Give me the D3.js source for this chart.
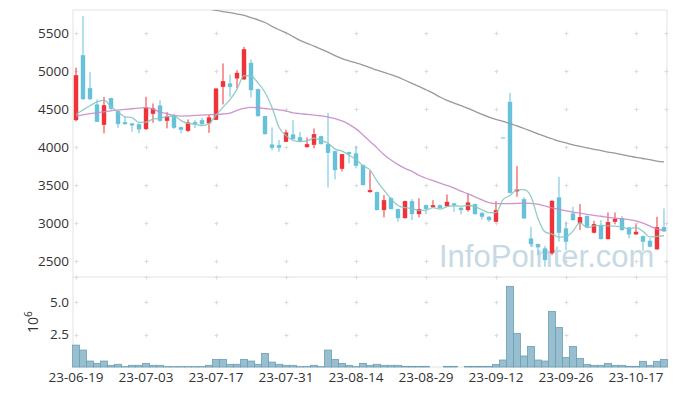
<!DOCTYPE html>
<html>
<head>
<meta charset="utf-8">
<script src="https://cdn.jsdelivr.net/npm/d3@7"></script>
<style>
  body { margin: 0; background: #fff; }
  svg { display: block; font-family: "Open Sans", sans-serif; }
</style>
</head>
<body>
<svg id="chart" width="677" height="396"></svg>
<script>
// trading days shown on the chart
const dates = [
  '23-06-19','23-06-20','23-06-21','23-06-22','23-06-23','23-06-26','23-06-27','23-06-28','23-06-29','23-06-30',
  '23-07-03','23-07-04','23-07-05','23-07-06','23-07-07','23-07-10','23-07-11','23-07-12','23-07-13','23-07-14',
  '23-07-17','23-07-18','23-07-19','23-07-20','23-07-21','23-07-24','23-07-25','23-07-26','23-07-27','23-07-28',
  '23-07-31','23-08-01','23-08-02','23-08-03','23-08-04','23-08-07','23-08-08','23-08-09','23-08-10','23-08-11',
  '23-08-14','23-08-16','23-08-17','23-08-18','23-08-21','23-08-22','23-08-23','23-08-24','23-08-25','23-08-28',
  '23-08-29','23-08-30','23-08-31','23-09-01','23-09-04','23-09-05','23-09-06','23-09-07','23-09-08','23-09-11',
  '23-09-12','23-09-13','23-09-14','23-09-15','23-09-18','23-09-19','23-09-20','23-09-21','23-09-22','23-09-25',
  '23-09-26','23-09-27','23-10-04','23-10-05','23-10-06','23-10-10','23-10-11','23-10-12','23-10-13','23-10-16',
  '23-10-17','23-10-18','23-10-19','23-10-20','23-10-23'
];

const open = [
  4355,5210,4776,4562,4293,4645,4474,4329,4312,4302, 4237,4438,4548,4346,4421,4263,4214,4329,4355,4312,
  4359,4793,4838,4904,4891,5109,4763,4408,4035,4026, 4070,4167,4131,3999,4030,4144,4039,3947,3714,3934,
  3917,3763,3408,3408,3171,3329,3184,3065,3289,3118, 3236,3210,3236,3219,3259,3201,3171,3250,3135,3083,
  3017,4127,4596,3417,3315,2798,2723,2667,2601,3338, 2930,3127,2996,3092,2872,2973,2789,3017,3065,2943,
  2851,2828,2767,2654,2947
];
const high = [
  5046,5724,4987,4627,4662,4650,4480,4398,4320,4320, 4662,4575,4618,4460,4440,4270,4364,4355,4385,4430,
  4775,5101,4956,5013,5320,5154,4770,4410,4259,4092, 4230,4355,4201,4127,4246,4150,4451,3950,3910,3940,
  4013,3770,3688,3415,3368,3340,3190,3295,3315,3325, 3245,3302,3245,3377,3265,3210,3390,3255,3140,3090,
  3289,4127,4714,3750,3340,2951,2730,2700,3300,3609, 3017,3215,3250,3100,3030,3039,3140,3140,3092,2950,
  2983,2835,2800,3083,3193
];
const low = [
  4340,4620,4620,4330,4180,4490,4254,4295,4201,4180, 4225,4320,4333,4246,4240,4180,4200,4250,4290,4188,
  4355,4562,4662,4772,4885,4654,4400,4165,3960,3938, 4065,4100,4075,3995,3983,4035,3470,3575,3680,3785,
  3720,3495,3400,3165,3075,3180,3017,3060,3039,3075, 3118,3200,3190,3215,3148,3114,3150,3110,3048,3017,
  3010,4127,3390,3346,3055,2688,2578,2425,2578,2754, 2645,3030,2907,2945,2865,2785,2785,2983,2900,2798,
  2845,2631,2680,2650,2885
];
const close = [
  4947,4631,4631,4333,4552,4504,4302,4302,4285,4233, 4517,4509,4346,4408,4254,4228,4325,4302,4302,4391,
  4772,4868,4793,4978,5289,4750,4408,4171,3991,3991, 4193,4105,4079,4039,4171,4039,3925,3697,3908,3908,
  3754,3500,3434,3171,3302,3184,3065,3289,3118,3184, 3184,3236,3197,3280,3233,3171,3272,3118,3083,3039,
  3171,4127,3398,3443,3061,2723,2680,2513,3293,2872, 2754,3039,3079,2951,2986,2789,3013,3056,2907,2851,
  2885,2754,2688,2947,2890
];
const volume = [
  1690000,1310000,460000,280000,460000,130000,210000,30000,130000,130000,
  280000,130000,130000,30000,30000,30000,30000,30000,30000,130000,
  590000,590000,210000,210000,590000,460000,210000,1050000,380000,210000,
  130000,130000,30000,30000,130000,30000,1310000,590000,280000,130000,
  30000,280000,130000,210000,130000,130000,130000,50000,50000,50000,
  50000,0,0,50000,50000,0,50000,50000,50000,50000,
  200000,540000,6230000,2590000,850000,1590000,540000,460000,4280000,3050000,
  740000,1590000,670000,200000,130000,130000,280000,130000,130000,50000,
  50000,440000,130000,440000,590000
];

// moving averages
const ma5 = [
  4430,4490,4545,4595,4619,4530,4464,4399,4389,4325, 4328,4369,4378,4403,4407,4349,4312,4303,4282,4310,
  4418,4527,4625,4760,4940,4936,4844,4719,4522,4262, 4151,4090,4072,4081,4117,4087,4051,3974,3948,3895,
  3838,3753,3701,3553,3432,3318,3231,3202,3192,3168, 3168,3202,3184,3216,3226,3223,3231,3215,3175,3137,
  3137,3308,3364,3436,3440,3350,3061,2884,2854,2816, 2822,2894,3007,2939,2962,2969,2964,2959,2950,2923,
  2942,2891,2817,2825,2833
];
const ma20 = [
  4412,4425,4440,4452,4465,4478,4488,4497,4505,4512, 4520,4500,4462,4440,4418,4408,4410,4418,4422,4425,
  4430,4436,4448,4485,4510,4522,4518,4508,4500,4490, 4475,4450,4440,4432,4422,4410,4395,4375,4345,4300,
  4240,4160,4075,3990,3900,3830,3770,3720,3680,3630, 3590,3560,3525,3495,3460,3420,3385,3345,3305,3270,
  3255,3255,3255,3260,3262,3258,3250,3225,3200,3180, 3160,3145,3130,3115,3100,3090,3075,3065,3055,3045,
  3030,3000,2960,2920,2905
];
const ma60 = [
  null,null,null,null,null,null,null,null,null,null, null,null,null,null,null,null,5880,5860,5840,5818,
  5800,5785,5770,5752,5735,5705,5675,5640,5590,5545, 5505,5455,5405,5365,5330,5290,5250,5205,5165,5135,
  5110,5080,5045,5015,4985,4955,4920,4880,4840,4800, 4755,4710,4660,4615,4580,4545,4510,4470,4430,4395,
  4365,4340,4310,4280,4245,4210,4175,4140,4110,4080, 4055,4030,4010,3990,3970,3955,3935,3920,3900,3880,
  3865,3850,3835,3815,3805
];

const xTickIdx = [0, 10, 20, 30, 40, 50, 60, 70, 80];
const priceTicks = [2500, 3000, 3500, 4000, 4500, 5000, 5500];
const volTicks = [2500000, 5000000];

const left = 73, right = 667;
const priceTop = 10, priceBottom = 277, volBottom = 367;
const upColor = '#ef3339', downColor = '#66c1d9';

const svg = d3.select('#chart');

const x = d3.scaleLinear()
  .domain([-0.43, dates.length - 1 + 0.43])
  .range([left, right]);
const yPrice = d3.scaleLinear().domain([2290, 5805]).range([priceBottom, priceTop]);
const yVol = d3.scaleLinear().domain([0, 6950000]).range([volBottom, priceBottom]);

svg.append('clipPath').attr('id', 'priceClip')
  .append('rect')
  .attr('x', left).attr('y', priceTop)
  .attr('width', right - left).attr('height', priceBottom - priceTop);

// panel frames
svg.append('rect')
  .attr('x', left).attr('y', priceTop)
  .attr('width', right - left).attr('height', volBottom - priceTop)
  .attr('fill', 'none').attr('stroke', '#e3e3e3');
svg.append('line')
  .attr('x1', left).attr('x2', right)
  .attr('y1', priceBottom).attr('y2', priceBottom)
  .attr('stroke', '#e3e3e3');

// little "+" grid markers
const plus = (g, cx, cy) => {
  g.append('path')
    .attr('d', `M${cx - 2},${cy}H${cx + 2}M${cx},${cy - 2}V${cy + 2}`)
    .attr('stroke', '#dcdcdc').attr('stroke-width', 1).attr('fill', 'none');
};
const grid = svg.append('g');
xTickIdx.forEach(i => {
  priceTicks.forEach(v => plus(grid, Math.round(x(i)) + 0.5, Math.round(yPrice(v)) + 0.5));
  volTicks.forEach(v => plus(grid, Math.round(x(i)) + 0.5, Math.round(yVol(v)) + 0.5));
  plus(grid, Math.round(x(i)) + 0.5, priceBottom + 0.5);
});
priceTicks.forEach(v => plus(grid, right - 0.5, Math.round(yPrice(v)) + 0.5));

// watermark
svg.append('text')
  .attr('x', 439).attr('y', 267)
  .attr('font-family', '"Liberation Sans", Arial, sans-serif')
  .attr('font-size', 31)
  .attr('fill', '#c6d9e4')
  .text('InfoPointer.com');

// volume bars
svg.append('g')
  .selectAll('rect')
  .data(volume)
  .join('rect')
  .attr('x', (d, i) => x(i) - 3.5)
  .attr('y', d => yVol(d))
  .attr('width', 7)
  .attr('height', d => yVol(0) - yVol(d))
  .attr('fill', '#97bfcf')
  .attr('stroke', '#6c9fb5')
  .attr('stroke-width', 0.8);

// candles
const candles = svg.append('g').attr('clip-path', 'url(#priceClip)');
const idx = d3.range(dates.length);
const colorOf = i => close[i] > open[i] ? upColor : downColor;

candles.selectAll('line')
  .data(idx)
  .join('line')
  .attr('x1', i => x(i)).attr('x2', i => x(i))
  .attr('y1', i => yPrice(high[i])).attr('y2', i => yPrice(low[i]))
  .attr('stroke', colorOf)
  .attr('stroke-width', 1);

candles.selectAll('rect')
  .data(idx)
  .join('rect')
  .attr('x', i => x(i) - 2.2)
  .attr('width', 4.4)
  .attr('y', i => yPrice(Math.max(open[i], close[i])))
  .attr('height', i => Math.max(1, Math.abs(yPrice(open[i]) - yPrice(close[i]))))
  .attr('fill', colorOf);

// moving average lines
const maLine = d3.line()
  .defined(d => d != null)
  .x((d, i) => x(i))
  .y(d => yPrice(d))
  .curve(d3.curveMonotoneX);

const lines = svg.append('g').attr('clip-path', 'url(#priceClip)').attr('fill', 'none');
lines.append('path').attr('d', maLine(ma60)).attr('stroke', '#999').attr('stroke-width', 1.3);
lines.append('path').attr('d', maLine(ma20)).attr('stroke', '#c98ac6').attr('stroke-width', 1.3).attr('opacity', 0.9);
lines.append('path').attr('d', maLine(ma5)).attr('stroke', '#86c8bf').attr('stroke-width', 1.3).attr('opacity', 0.9);

// axes labels
const axisText = svg.append('g').attr('fill', '#333').attr('font-size', 13.5);

axisText.selectAll('.py')
  .data(priceTicks)
  .join('text')
  .attr('class', 'py')
  .attr('x', 69)
  .attr('y', d => yPrice(d))
  .attr('dy', '0.35em')
  .attr('text-anchor', 'end')
  .text(d => d);

axisText.selectAll('.vy')
  .data(volTicks)
  .join('text')
  .attr('class', 'vy')
  .attr('x', 69)
  .attr('y', d => yVol(d))
  .attr('dy', '0.35em')
  .attr('text-anchor', 'end')
  .text(d => d3.format('.1f')(d / 1e6));

axisText.selectAll('.xl')
  .data(xTickIdx)
  .join('text')
  .attr('class', 'xl')
  .attr('x', i => x(i))
  .attr('y', 382)
  .attr('text-anchor', 'middle')
  .text(i => dates[i]);

// volume exponent label
const expLabel = svg.append('text')
  .attr('transform', 'translate(38,333) rotate(-90)')
  .attr('fill', '#333')
  .attr('font-size', 14);
expLabel.append('tspan').text('10');
expLabel.append('tspan').attr('font-size', 10).attr('dy', -6).text('6');
</script>
</body>
</html>
